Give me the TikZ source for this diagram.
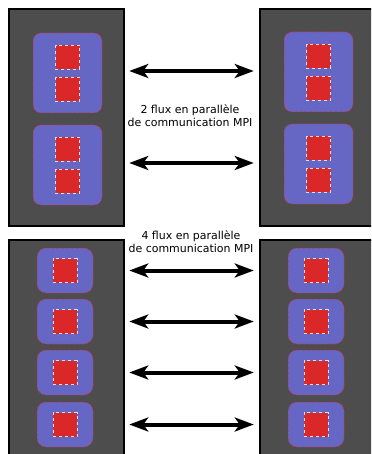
\documentclass[tikz,border=0pt]{standalone}
\usepackage{fontspec}
\setmainfont{DejaVu Sans}
\usetikzlibrary{arrows.meta}
\definecolor{nodegray}{RGB}{77,77,77}
\definecolor{procblue}{RGB}{102,102,196}
\definecolor{corered}{RGB}{218,40,40}

\begin{document}
\begin{tikzpicture}[x=1bp, y=-1bp,
    machine/.style={draw=black, line width=2.5bp, fill=nodegray, inner sep=0pt},
    proc/.style={draw=corered, densely dashed, line width=0.5bp, fill=procblue, rounded corners=8bp, inner sep=0pt},
    core/.style={draw=white!75!gray, dashed, line width=0.6bp, fill=corered, minimum size=24bp, inner sep=0pt},
    flux/.style={line width=4bp, shorten <=4bp, shorten >=5bp,
      {Stealth[length=19bp,width=14bp,inset=5bp]}-{Stealth[length=19bp,width=14bp,inset=5bp]}},
    fluxtext/.style={font=\fontsize{11}{13}\selectfont, align=center, inner sep=0pt}]
  \useasboundingbox (0,0) rectangle (371,454);
  \clip (0,0) rectangle (371,454);

  % machines
  \node[machine, minimum width=115bp, minimum height=217bp] (mA) at (66.5,117.5) {};
  \node[machine, minimum width=120bp, minimum height=217bp] (mB) at (320,117.5) {};
  \node[machine, minimum width=115bp, minimum height=230bp] (mC) at (66.5,355) {};
  \node[machine, minimum width=120bp, minimum height=230bp] (mD) at (320,355) {};

  % 2 processes per machine, 2 cores each
  \foreach \y [count=\i] in {73,165}{
    \node[proc, minimum width=69bp, minimum height=80bp] (pA\i) at (67.5,\y) {};
    \node[proc, minimum width=69bp, minimum height=80bp] (pB\i) at (318.5,\y-1) {};
    \node[core] (cA\i u) at ([yshift=16bp]pA\i.center) {};
    \node[core] (cA\i d) at ([yshift=-16.5bp]pA\i.center) {};
    \node[core] (cB\i u) at ([yshift=16bp]pB\i.center) {};
    \node[core] (cB\i d) at ([yshift=-16.5bp]pB\i.center) {};
    \draw[flux, transform canvas={yshift=2bp}] (pA\i -| mA.east) -- (pA\i -| mB.west);
  }

  % 4 processes per machine, 1 core each
  \foreach \y [count=\i] in {270.5,321.5,372.5,424.5}{
    \node[proc, rounded corners=9bp, minimum width=56bp, minimum height=45bp] (pC\i) at (65,\y) {};
    \node[proc, rounded corners=9bp, minimum width=56bp, minimum height=45bp] (pD\i) at (316,\y) {};
    \node[core] (cC\i) at (pC\i) {};
    \node[core] (cD\i) at (pD\i) {};
    \draw[flux] (pC\i -| mC.east) -- (pC\i -| mD.west);
  }

  \node[fluxtext] (t2) at (190,116) {2 flux en parallèle\\de communication MPI};
  \node[fluxtext] (t4) at (191,242) {4 flux en parallèle\\de communication MPI};
\end{tikzpicture}
\end{document}
